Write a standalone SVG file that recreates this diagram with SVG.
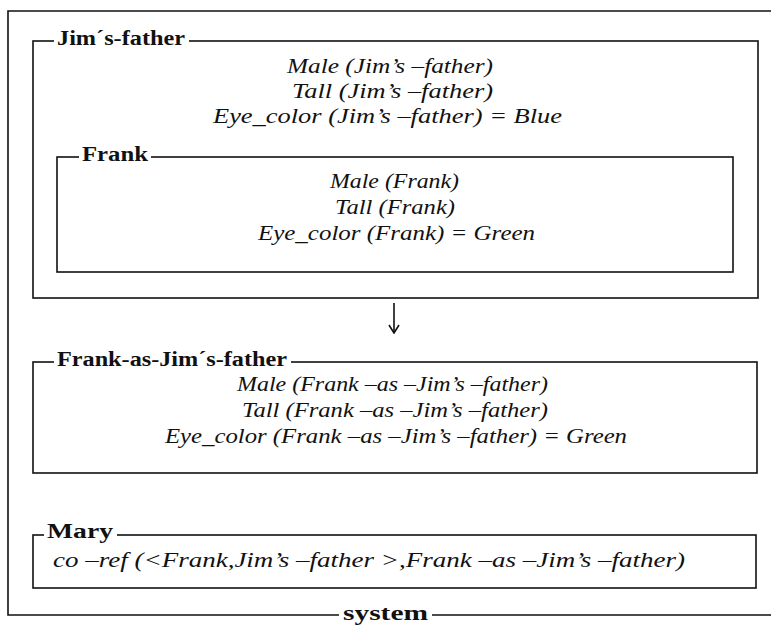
<svg xmlns="http://www.w3.org/2000/svg" width="771" height="625" viewBox="0 0 771 625">
<style>
.box{fill:none;stroke:#111;stroke-width:1.6}
.lbl{font-family:"Liberation Serif",serif;font-weight:bold;font-size:20px;fill:#111}
.it{font-family:"Liberation Serif",serif;font-style:italic;font-size:21px;fill:#111}
.bg{fill:#fff}
</style>
<defs>
<marker id="ah" viewBox="0 0 10 12" refX="9" refY="6" markerWidth="10" markerHeight="12" markerUnits="userSpaceOnUse" orient="auto">
<path d="M1,1 L9,6 L1,11" fill="none" stroke="#111" stroke-width="1.6"/>
</marker>
</defs>
<rect width="771" height="625" fill="#fff"/>
<g id="system">
<path class="box" d="M771,11 H8 V615 H771"/>
<rect class="bg" x="339" y="605" width="93" height="20"/>
<text class="lbl" x="343" y="620" textLength="85" lengthAdjust="spacingAndGlyphs">system</text>
</g>
<g id="jims-father">
<rect class="box" x="33" y="41" width="725" height="257"/>
<rect class="bg" x="54" y="28" width="135" height="20"/>
<text class="lbl" x="57" y="45" textLength="128" lengthAdjust="spacingAndGlyphs">Jim´s-father</text>
<text class="it" x="287" y="73" textLength="206" lengthAdjust="spacingAndGlyphs">Male (Jim’s –father)</text>
<text class="it" x="292" y="98" textLength="201" lengthAdjust="spacingAndGlyphs">Tall (Jim’s –father)</text>
<text class="it" x="213" y="123" textLength="349" lengthAdjust="spacingAndGlyphs">Eye_color (Jim’s –father) =  Blue</text>
</g>
<g id="frank">
<rect class="box" x="57" y="157" width="676" height="115"/>
<rect class="bg" x="79" y="145" width="72" height="20"/>
<text class="lbl" x="82" y="161" textLength="66" lengthAdjust="spacingAndGlyphs">Frank</text>
<text class="it" x="330" y="188" textLength="129" lengthAdjust="spacingAndGlyphs">Male (Frank)</text>
<text class="it" x="335" y="214" textLength="120" lengthAdjust="spacingAndGlyphs">Tall (Frank)</text>
<text class="it" x="258" y="240" textLength="277" lengthAdjust="spacingAndGlyphs">Eye_color (Frank) =  Green</text>
</g>
<g id="connectors">
<path class="box" d="M394,303 V333" marker-end="url(#ah)"/>
</g>
<g id="frank-as-jims-father">
<rect class="box" x="33" y="362" width="724" height="111"/>
<rect class="bg" x="54" y="348" width="237" height="20"/>
<text class="lbl" x="57" y="366" textLength="230" lengthAdjust="spacingAndGlyphs">Frank-as-Jim´s-father</text>
<text class="it" x="237" y="391" textLength="311" lengthAdjust="spacingAndGlyphs">Male (Frank –as –Jim’s –father)</text>
<text class="it" x="242" y="417" textLength="306" lengthAdjust="spacingAndGlyphs">Tall (Frank –as –Jim’s –father)</text>
<text class="it" x="165" y="443" textLength="462" lengthAdjust="spacingAndGlyphs">Eye_color (Frank –as –Jim’s –father) =  Green</text>
</g>
<g id="mary">
<rect class="box" x="33" y="535" width="723" height="53"/>
<rect class="bg" x="44" y="522" width="73" height="18"/>
<text class="lbl" x="47" y="538" textLength="66" lengthAdjust="spacingAndGlyphs">Mary</text>
<text class="it" x="53" y="567" textLength="632" lengthAdjust="spacingAndGlyphs">co –ref (&lt;Frank,Jim’s –father &gt;,Frank –as –Jim’s –father)</text>
</g>
</svg>
